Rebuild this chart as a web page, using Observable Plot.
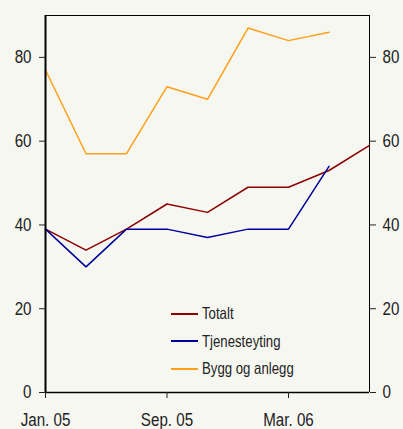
<!DOCTYPE html>
<html><head><meta charset="utf-8">
<script src="https://cdn.jsdelivr.net/npm/d3@7"></script>
<script src="https://cdn.jsdelivr.net/npm/@observablehq/plot@0.6"></script>
<style>
body{margin:0;background:#f7f7f2;}
#wrap{position:relative;width:403px;height:429px;background:#f7f7f2;font-family:"Liberation Sans",Arial,sans-serif;}
#legend{position:absolute;left:171px;top:300px;font-size:16.5px;color:#222;}
#legend .row{display:flex;align-items:center;height:27.5px;white-space:nowrap;}
#legend .sw{width:27px;height:2px;margin-right:4px;flex:none;}
#legend .lbl{display:inline-block;transform:scaleX(0.8);transform-origin:0 50%;}
</style></head><body><div id="wrap"></div>
<script>
const periods = ["Jan. 05","Mar. 05","Mai 05","Sep. 05","Nov. 05","Jan. 06","Mar. 06","Mai 06","Sep. 06"];
const totalt = [39,34,39,45,43,49,49,53,59];
const tjenesteyting = [39,30,39,39,37,39,39,54,null];
const bygg = [77,57,57,73,70,87,84,86,null];
const yTicks = [0,20,40,60,80];
const xTickIdx = [0,3,6];
const seriesNames = ["Totalt","Tjenesteyting","Bygg og anlegg"];
const seriesColors = ["#8b0000","#000099","#ff9f1a"];
const seriesValues = [totalt, tjenesteyting, bygg];

const rows = [];
seriesValues.forEach((vals, s) => vals.forEach((v, i) => {
  if (v != null) rows.push({series: seriesNames[s], i, v});
}));

const chart = Plot.plot({
  width: 403, height: 429,
  marginLeft: 45, marginRight: 34, marginTop: 15, marginBottom: 37,
  style: {background: "#f7f7f2", fontFamily: '"Liberation Sans",Arial,sans-serif', fontSize: "18.5px", color: "#222"},
  x: {domain: [0, periods.length - 1]},
  y: {domain: [0, 90]},
  color: {domain: seriesNames, range: seriesColors},
  marks: [
    Plot.ruleY([90], {stroke: "#000", strokeWidth: 1}),
    Plot.ruleX([periods.length - 1], {stroke: "#000", strokeWidth: 1}),
    Plot.line(rows, {x: "i", y: "v", z: "series", stroke: "series", strokeWidth: 1.5}),
    Plot.ruleX([0], {stroke: "#000", strokeWidth: 2}),
    Plot.ruleY([0], {stroke: "#000", strokeWidth: 1.5}),
    Plot.axisY({anchor: "left", ticks: yTicks, tickSize: 6, tickPadding: 8, label: null, fontSize: 18.5}),
    Plot.axisY({anchor: "right", ticks: yTicks, tickSize: 6, tickPadding: 7, label: null, fontSize: 18.5}),
    Plot.axisX({ticks: xTickIdx, tickFormat: i => periods[i], tickSize: 6, tickPadding: 14, label: null, fontSize: 18.5})
  ]
});
chart.querySelectorAll("text").forEach(t => {
  const tr = t.getAttribute("transform") || "";
  t.setAttribute("transform", tr + " scale(0.82,1)");
});
const wrap = document.getElementById("wrap");
wrap.appendChild(chart);
const lg = document.createElement("div");
lg.id = "legend";
seriesNames.forEach((n, k) => {
  const r = document.createElement("div");
  r.className = "row";
  r.innerHTML = `<span class="sw" style="background:${seriesColors[k]}"></span><span class="lbl">${n}</span>`;
  lg.appendChild(r);
});
wrap.appendChild(lg);
</script></body></html>
